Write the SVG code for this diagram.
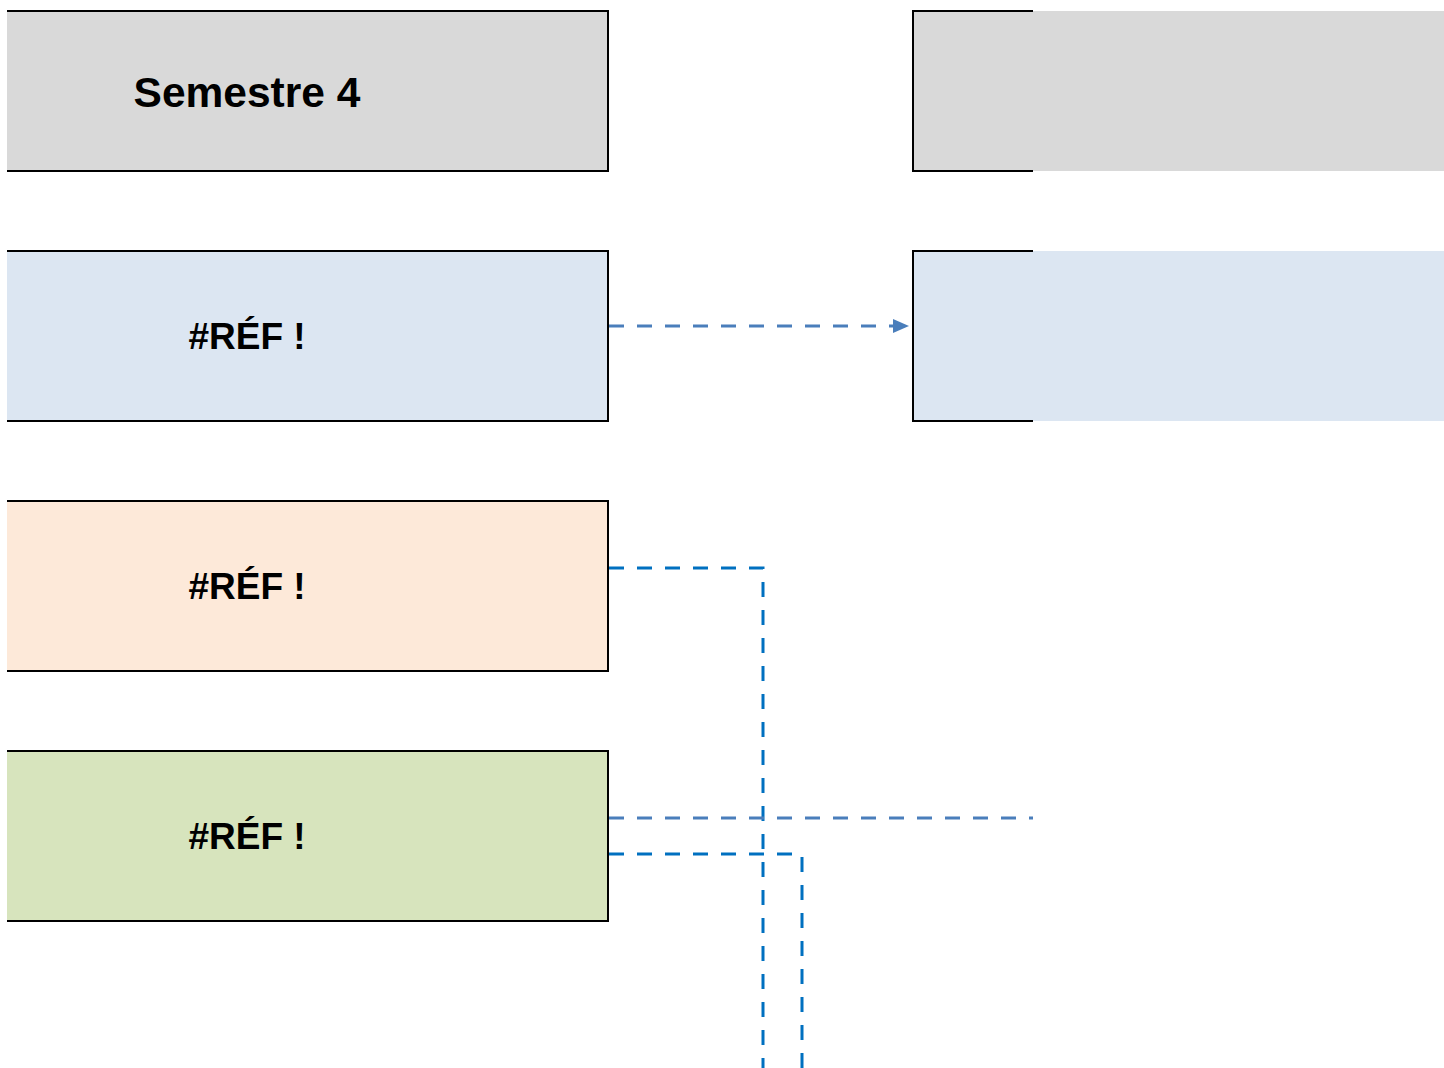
<svg xmlns="http://www.w3.org/2000/svg" width="1444" height="1068" viewBox="0 0 1444 1068">
<style>
.edge{stroke:#000;stroke-width:2;fill:none}
.t{font-family:"Liberation Sans",Arial,sans-serif;font-weight:bold;text-anchor:middle;fill:#000}
.c1{stroke:#4a7ebb;stroke-width:3;fill:none;stroke-dasharray:15 13}
.c2{stroke:#0070c0;stroke-width:3;fill:none;stroke-dasharray:15 13}
</style>
<defs>
<marker id="ah" markerWidth="16" markerHeight="14" refX="0" refY="7" orient="auto" markerUnits="userSpaceOnUse">
<path d="M0,0 L16,7 L0,14 z" fill="#4a7ebb"/>
</marker>
</defs>
<rect width="1444" height="1068" fill="#fff"/>
<g id="n1">
<rect x="7" y="11" width="601" height="160" fill="#d9d9d9"/>
<path class="edge" d="M7,11 H608 V171 H7"/>
<text class="t" x="247" y="107" font-size="42.5">Semestre 4</text>
</g>
<g id="n2">
<rect x="7" y="251" width="601" height="170" fill="#dce6f2"/>
<path class="edge" d="M7,251 H608 V421 H7"/>
<text class="t" x="247" y="349" font-size="37">#RÉF !</text>
</g>
<g id="n3">
<rect x="7" y="501" width="601" height="170" fill="#fde9d9"/>
<path class="edge" d="M7,501 H608 V671 H7"/>
<text class="t" x="247" y="599" font-size="37">#RÉF !</text>
</g>
<g id="n4">
<rect x="7" y="751" width="601" height="170" fill="#d7e4bd"/>
<path class="edge" d="M7,751 H608 V921 H7"/>
<text class="t" x="247" y="849" font-size="37">#RÉF !</text>
</g>
<g id="n5">
<rect x="913" y="11" width="531" height="160" fill="#d9d9d9"/>
<path class="edge" d="M1033,11 H913 V171 H1033"/>
</g>
<g id="n6">
<rect x="913" y="251" width="531" height="170" fill="#dce6f2"/>
<path class="edge" d="M1033,251 H913 V421 H1033"/>
</g>
<g id="connectors">
<path class="c1" d="M609,326 H893" marker-end="url(#ah)"/>
<path class="c2" d="M609,568 H763 V1068"/>
<path class="c1" d="M609,818 H1033"/>
<path class="c2" d="M609,854 H802 V1068"/>
</g>
</svg>
